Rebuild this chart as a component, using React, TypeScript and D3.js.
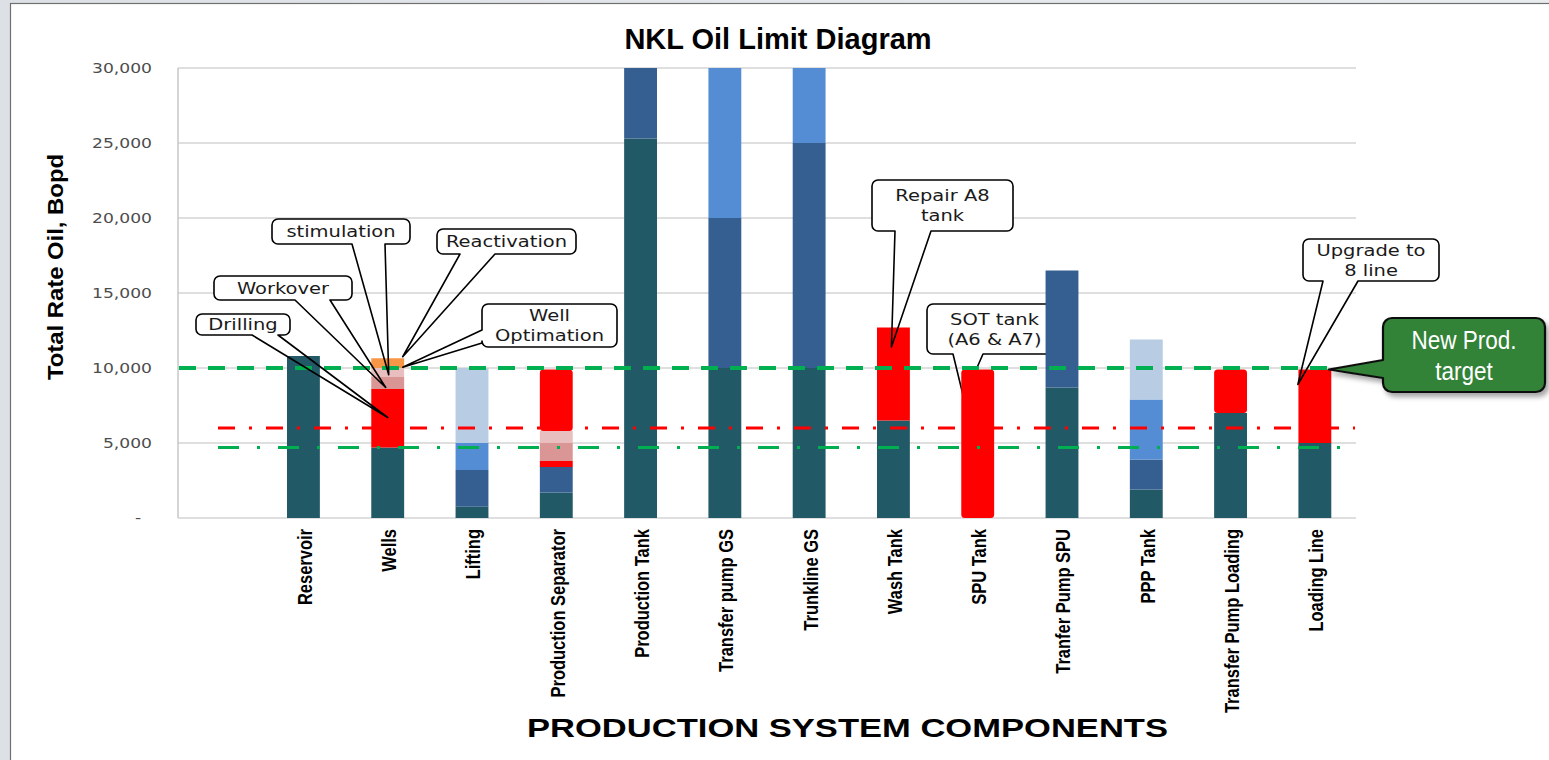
import React from "react";
import * as d3 from "d3";

// ---- data ----
const categories = [
  "Reservoir",
  "Wells",
  "Lifting",
  "Production Separator",
  "Production Tank",
  "Transfer pump GS",
  "Trunkline GS",
  "Wash Tank",
  "SPU Tank",
  "Tranfer Pump SPU",
  "PPP Tank",
  "Transfer Pump Loading",
  "Loading Line",
];

// stacked segments, bottom to top (Bopd)
const currentRate = [10800, 4700, 750, 1700, 25300, 10000, 10000, 6500, 0, 8700, 1900, 7000, 5000];
const capacityA = [0, 0, 2450, 1700, 4700, 10000, 15000, 0, 0, 7800, 2000, 0, 0];
const capacityB = [0, 0, 1800, 0, 0, 10000, 5000, 0, 0, 0, 4000, 0, 0];
const capacityC = [0, 0, 5000, 0, 0, 0, 0, 0, 0, 0, 4000, 0, 0];
const drilling = [0, 3900, 0, 400, 0, 0, 0, 6200, 0, 0, 0, 0, 4900];
const workover = [0, 800, 0, 1200, 0, 0, 0, 0, 0, 0, 0, 0, 0];
const stimulation = [0, 600, 0, 800, 0, 0, 0, 0, 0, 0, 0, 0, 0];
const upgrade = [0, 0, 0, 4100, 0, 0, 0, 0, 9900, 0, 0, 2900, 0];
const reactivation = [0, 650, 0, 0, 0, 0, 0, 0, 0, 0, 0, 0, 0];

const yTicks = [0, 5000, 10000, 15000, 20000, 25000, 30000];

const newProdTarget = 10000;
const redLimit = 6000;
const greenLimit = 4700;

// ---- layout ----
const W = 1549;
const H = 760;
const plotLeft = 177;
const plotRight = 1357;
const plotTop = 68;
const plotBottom = 518;

const seriesKeys = [
  "currentRate",
  "capacityA",
  "capacityB",
  "capacityC",
  "drilling",
  "workover",
  "stimulation",
  "upgrade",
  "reactivation",
];
const seriesColor: Record<string, string> = {
  currentRate: "#225967",
  capacityA: "#365F91",
  capacityB: "#558DD5",
  capacityC: "#B8CCE4",
  drilling: "#FF0000",
  workover: "#DA9694",
  stimulation: "#E8BFBE",
  upgrade: "#FF0000",
  reactivation: "#F79646",
};
const roundedSeries = new Set(["upgrade"]);

type Callout = {
  lines: string[];
  box: [number, number, number, number];
  side: "bottom" | "left";
  base: [number, number];
  tip: { category: string; value: number; dx: number };
  under?: boolean;
};

const callouts: Callout[] = [
  { lines: ["Drilling"], box: [196, 314, 94, 21], side: "bottom", base: [252, 278], tip: { category: "Wells", value: 6700, dx: 0 } },
  { lines: ["Workover"], box: [214, 276, 138, 24], side: "bottom", base: [295, 330], tip: { category: "Wells", value: 8700, dx: -2 } },
  { lines: ["stimulation"], box: [272, 219, 138, 25], side: "bottom", base: [352, 385], tip: { category: "Wells", value: 9550, dx: 1 } },
  { lines: ["Reactivation"], box: [437, 229, 139, 25], side: "bottom", base: [460, 495], tip: { category: "Wells", value: 10750, dx: 15 } },
  { lines: ["Well", "Optimation"], box: [482, 304, 135, 43], side: "left", base: [330, 343], tip: { category: "Wells", value: 10050, dx: 15 } },
  { lines: ["Repair A8", "tank"], box: [872, 180, 141, 51], side: "bottom", base: [895, 931], tip: { category: "Wash Tank", value: 11400, dx: -2 } },
  { lines: ["SOT tank", "(A6 & A7)"], box: [927, 304, 135, 50], side: "bottom", base: [953, 983], tip: { category: "SPU Tank", value: 8000, dx: -14 }, under: true },
  { lines: ["Upgrade to", "8 line"], box: [1303, 239, 136, 42], side: "bottom", base: [1323, 1358], tip: { category: "Loading Line", value: 8900, dx: -17 } },
];

const targetCallout: Callout = {
  lines: ["New Prod.", "target"],
  box: [1383, 318, 162, 74],
  side: "left",
  base: [360, 378],
  tip: { category: "Loading Line", value: 9900, dx: 14 },
};

// outline of a rounded box with a wedge pointer leaving one side
function calloutPath(
  box: [number, number, number, number],
  side: "bottom" | "left",
  base: [number, number],
  tx: number,
  ty: number,
  r: number
) {
  const [x, y, w, h] = box;
  const b = y + h;
  const p = d3.path();
  if (side === "bottom") {
    p.moveTo(base[0], b);
    p.lineTo(tx, ty);
    p.lineTo(base[1], b);
    p.lineTo(x + w - r, b);
    p.arcTo(x + w, b, x + w, b - r, r);
    p.lineTo(x + w, y + r);
    p.arcTo(x + w, y, x + w - r, y, r);
    p.lineTo(x + r, y);
    p.arcTo(x, y, x, y + r, r);
    p.lineTo(x, b - r);
    p.arcTo(x, b, x + r, b, r);
    p.closePath();
  } else {
    p.moveTo(x, base[0]);
    p.lineTo(tx, ty);
    p.lineTo(x, base[1]);
    p.lineTo(x, b - r);
    p.arcTo(x, b, x + r, b, r);
    p.lineTo(x + w - r, b);
    p.arcTo(x + w, b, x + w, b - r, r);
    p.lineTo(x + w, y + r);
    p.arcTo(x + w, y, x + w - r, y, r);
    p.lineTo(x + r, y);
    p.arcTo(x, y, x, y + r, r);
    p.closePath();
  }
  return p.toString();
}

export default function App() {
  const y = d3.scaleLinear().domain([0, 30000]).range([plotBottom, plotTop]);
  const slot = (plotRight - plotLeft) / (categories.length + 1);
  const x = d3
    .scaleBand<string>()
    .domain(categories)
    .range([plotLeft + slot, plotRight])
    .paddingInner(0.61)
    .paddingOuter(0.305);

  const columns: Record<string, number[]> = {
    currentRate,
    capacityA,
    capacityB,
    capacityC,
    drilling,
    workover,
    stimulation,
    upgrade,
    reactivation,
  };
  const rows = categories.map((c, i) => {
    const row: Record<string, any> = { category: c };
    seriesKeys.forEach((k) => (row[k] = columns[k][i]));
    return row;
  });
  const stacked = d3.stack<Record<string, any>>().keys(seriesKeys)(rows);

  const tickFormat = (v: number) => (v === 0 ? "-\u00A0\u00A0" : d3.format(",")(v));

  const renderCallout = (c: Callout, key: string) => {
    const tx = (x(c.tip.category) ?? 0) + x.bandwidth() / 2 + c.tip.dx;
    const ty = y(c.tip.value);
    const [bx, by, bw, bh] = c.box;
    const cx = bx + bw / 2;
    const lh = 20;
    const first = by + bh / 2 - ((c.lines.length - 1) * lh) / 2 + 5.5;
    return (
      <g key={key}>
        <rect x={bx} y={by} width={bw} height={bh} rx={6} fill="#fff" />
        <path
          d={calloutPath(c.box, c.side, c.base, tx, ty, 6)}
          fill="none"
          stroke="#000"
          strokeWidth={1.6}
          strokeLinejoin="round"
        />
        {c.lines.map((t, i) => (
          <g key={i} transform={`translate(${cx},${first + i * lh}) scale(1.3,1)`}>
            <text
              textAnchor="middle"
              fontFamily="'DejaVu Sans', Verdana, sans-serif"
              fontSize={15}
              fill="#1a1a1a"
            >
              {t}
            </text>
          </g>
        ))}
      </g>
    );
  };

  const tc = targetCallout;
  const tTx = (x(tc.tip.category) ?? 0) + x.bandwidth() / 2 + tc.tip.dx;
  const tTy = y(tc.tip.value);

  return (
    <svg
      width={W}
      height={H}
      viewBox={`0 0 ${W} ${H}`}
      style={{ position: "absolute", left: 0, top: 0 }}
    >
      <defs>
        <linearGradient id="frameBg" x1="0" y1="0" x2="1" y2="0">
          <stop offset="0" stopColor="#DDE1E6" />
          <stop offset="1" stopColor="#E9ECEF" />
        </linearGradient>
        <filter id="boxShadow" x="-20%" y="-20%" width="140%" height="150%">
          <feDropShadow dx="3" dy="4" stdDeviation="2.5" floodColor="#000" floodOpacity="0.35" />
        </filter>
      </defs>

      {/* slide frame */}
      <rect x={0} y={0} width={W} height={H} fill="url(#frameBg)" />
      <rect x={10.5} y={3.5} width={W + 20} height={H + 20} fill="#fff" stroke="#707070" strokeWidth={1.2} />

      {/* title */}
      <text
        x={778}
        y={49}
        textAnchor="middle"
        fontFamily="'Liberation Sans', Arial, sans-serif"
        fontWeight="bold"
        fontSize={29}
        fill="#000"
      >
        NKL Oil Limit Diagram
      </text>

      {/* gridlines */}
      {yTicks.map((t) => (
        <line key={t} x1={plotLeft + 1} x2={plotRight - 1} y1={y(t)} y2={y(t)} stroke="#D4D4D4" strokeWidth={1.3} />
      ))}
      <line x1={plotLeft + 1} x2={plotLeft + 1} y1={plotTop} y2={plotBottom} stroke="#BFBFBF" strokeWidth={1.3} />

      {/* y tick labels */}
      {yTicks.map((t) => (
        <g key={t} transform={`translate(152,${y(t)}) scale(1.27,1)`}>
          <text
            textAnchor="end"
            dy="0.36em"
            fontFamily="'DejaVu Sans', Verdana, sans-serif"
            fontSize={13.5}
            fill="#4D4D4D"
          >
            {tickFormat(t)}
          </text>
        </g>
      ))}

      {/* y axis title */}
      <g transform="translate(63,267) rotate(-90) scale(1,0.92)">
        <text
          textAnchor="middle"
          fontFamily="'Liberation Sans', Arial, sans-serif"
          fontWeight="bold"
          fontSize={23}
          textLength={226}
          lengthAdjust="spacingAndGlyphs"
          fill="#000"
        >
          Total Rate Oil, Bopd
        </text>
      </g>

      {/* callouts that sit beneath the bars */}
      {callouts.filter((c) => c.under).map((c, i) => renderCallout(c, `u${i}`))}

      {/* stacked bars */}
      {stacked.map((s) => (
        <g key={s.key} fill={seriesColor[s.key]}>
          {s.map((d, i) => {
            const h = y(d[0]) - y(d[1]);
            if (h <= 0) return null;
            return (
              <rect
                key={i}
                x={x(categories[i])}
                y={y(d[1])}
                width={x.bandwidth()}
                height={h}
                rx={roundedSeries.has(s.key) ? 3.5 : 0}
              />
            );
          })}
        </g>
      ))}

      {/* limit lines */}
      <line
        x1={plotLeft + 2}
        x2={tTx + 8}
        y1={y(newProdTarget)}
        y2={y(newProdTarget)}
        stroke="#00B050"
        strokeWidth={4}
        strokeDasharray="17 12"
      />
      <line
        x1={218}
        x2={plotRight - 2}
        y1={y(redLimit)}
        y2={y(redLimit)}
        stroke="#FF0000"
        strokeWidth={3}
        strokeDasharray="17 14 3 14"
      />
      <line
        x1={218}
        x2={plotRight - 2}
        y1={y(greenLimit)}
        y2={y(greenLimit)}
        stroke="#00B050"
        strokeWidth={3}
        strokeDasharray="21 18 3 18"
      />

      {/* category labels */}
      {categories.map((c) => (
        <g
          key={c}
          transform={`translate(${(x(c) ?? 0) + x.bandwidth() / 2 + 1},529) rotate(-90) scale(1,1.25)`}
        >
          <text
            textAnchor="end"
            dy="0.36em"
            fontFamily="'Liberation Sans', Arial, sans-serif"
            fontWeight="bold"
            fontSize={16.5}
            fill="#000"
          >
            {c}
          </text>
        </g>
      ))}

      {/* x axis title */}
      <text
        x={847.5}
        y={737}
        textAnchor="middle"
        fontFamily="'Liberation Sans', Arial, sans-serif"
        fontWeight="bold"
        fontSize={26}
        textLength={641}
        lengthAdjust="spacingAndGlyphs"
        fill="#000"
      >
        PRODUCTION SYSTEM COMPONENTS
      </text>

      {/* callouts */}
      {callouts.filter((c) => !c.under).map((c, i) => renderCallout(c, `c${i}`))}

      {/* new production target */}
      <path
        d={calloutPath(tc.box, tc.side, tc.base, tTx, tTy, 9)}
        fill="#328237"
        stroke="#111"
        strokeWidth={2.2}
        strokeLinejoin="round"
        filter="url(#boxShadow)"
      />
      {tc.lines.map((t, i) => (
        <g
          key={t}
          transform={`translate(${tc.box[0] + tc.box[2] / 2},${349 + i * 31}) scale(0.9,1)`}
        >
          <text
            textAnchor="middle"
            fontFamily="'Liberation Sans', Arial, sans-serif"
            fontSize={25}
            fill="#fff"
          >
            {t}
          </text>
        </g>
      ))}
    </svg>
  );
}
